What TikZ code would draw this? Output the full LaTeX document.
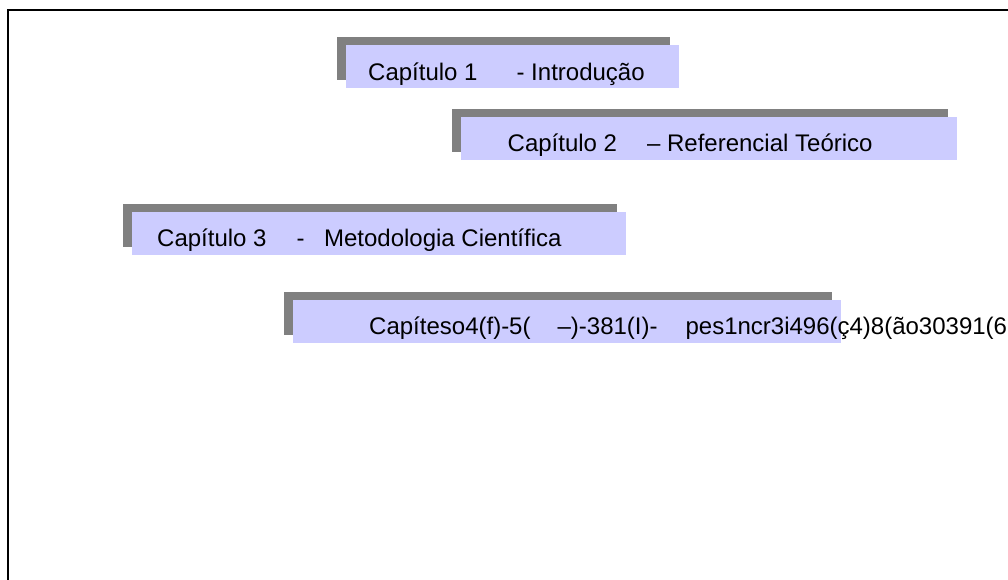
\documentclass[tikz,border=0pt]{standalone}
\usepackage{fontspec}
\setmainfont{Liberation Sans}
\usetikzlibrary{shadows}
\definecolor{chapfill}{RGB}{204,204,255}
\definecolor{chapshade}{RGB}{128,128,128}
\begin{document}
\begin{tikzpicture}[x=1pt,y=-1pt,
  chapbox/.style={draw=none, fill=chapfill, minimum height=43pt, inner sep=0pt,
    anchor=north west,
    copy shadow={shadow xshift=-9pt, shadow yshift=8pt, fill=chapshade, draw=none}},
  chaptext/.style={anchor=base west, inner sep=0pt,
    font=\fontsize{24}{28}\selectfont}]
\useasboundingbox (0,0) rectangle (1008,579);
\clip (0,0) rectangle (1008,579);
\fill[white] (0,0) rectangle (1008,579);
% page frame, running past the right and lower edges
\draw[line width=2pt] (8,10) rectangle (1030,600);

% chapter boxes
\node[chapbox, minimum width=333pt] (c1) at (346,45) {};
\node[chapbox, minimum width=496pt] (c2) at (461,117) {};
\node[chapbox, minimum width=494pt] (c3) at (132,212) {};
\node[chapbox, minimum width=548pt] (c4) at (293,300) {};

% chapter titles
\node[chaptext] (t1) at (368,80) {Capítulo 1\hspace{39pt}- Introdução};
\node[chaptext] (t2) at (507.5,151) {Capítulo 2\hspace{30pt}– Referencial Teórico};
\node[chaptext] (t3) at (157,246) {Capítulo 3\hspace{30pt}-\hspace{19.5pt}Metodologia Científica};
\node[chaptext] (t4) at (369,334) {Capíteso4(f)-5(\hspace{27pt}–)-381(I)-\hspace{28pt}pes1ncr3i496(ç4)8(ão30391(6};
\end{tikzpicture}
\end{document}
